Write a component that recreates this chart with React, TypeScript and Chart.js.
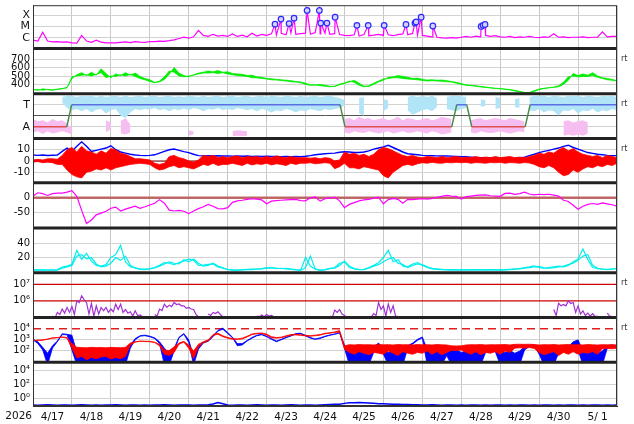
import React, { useEffect, useRef } from "react";
import { Chart, registerables } from "chart.js";

Chart.register(...registerables);

const FONT = "DejaVu Sans";
const N = null;
const STEP = 0.125; // days per sample (3 h)
const DAYS = 15;
const YEAR_LABEL = "2026";
const X_LABELS = ["4/17", "4/18", "4/19", "4/20", "4/21", "4/22", "4/23", "4/24", "4/25", "4/26", "4/27", "4/28", "4/29", "4/30", "5/ 1", ""];

// Panel 1: X-ray flux (W/m2)
const XRAY = [
  6e-7, 5e-7, 3e-6, 5e-7, 4.2e-7, 4.5e-7, 4e-7, 4.2e-7,
  3.5e-7, 3.3e-7, 1.6e-6, 5e-7, 3.8e-7, 6e-7, 4e-7, 3.4e-7,
  3.5e-7, 3.4e-7, 3.8e-7, 4.2e-7, 3.6e-7, 4.4e-7, 4e-7, 3.9e-7,
  4.6e-7, 4.4e-7, 5e-7, 4.8e-7, 5.5e-7, 6.5e-7, 8.5e-7, 1.1e-6,
  9e-7, 1.2e-6, 4.5e-6, 1.6e-6, 1.3e-6, 2e-6, 1.4e-6, 1.6e-6,
  1.3e-6, 2.2e-6, 1.3e-6, 1.7e-6, 1.2e-6, 2.5e-6, 1.4e-6, 2e-6,
  1.6e-6, 2.2e-6, 1.7e-6, 2.4e-6, 1.8e-6, 2.6e-6, 2e-6, 2.3e-6,
  2.5e-6, 2e-6, 2.8e-6, 2.2e-6, 2.5e-6, 2e-6, 2.3e-6, 1.9e-6,
  1.6e-6, 1.5e-6, 1.8e-6, 1.4e-6, 1.9e-6, 1.5e-6, 1.7e-6, 2e-6,
  1.6e-6, 1.8e-6, 1.5e-6, 1.9e-6, 2.2e-6, 1.8e-6, 2.4e-6, 1.7e-6,
  1.6e-6, 1.4e-6, 1.2e-6, 1.1e-6, 9.5e-7, 9e-7, 1e-6, 9e-7,
  1.1e-6, 1.3e-6, 1.1e-6, 1.4e-6, 1.2e-6, 1.6e-6, 1.3e-6, 1.5e-6,
  1.2e-6, 1.1e-6, 1.3e-6, 1e-6, 1.2e-6, 1.1e-6, 1.3e-6, 1.1e-6,
  1e-6, 1.2e-6, 1.1e-6, 2.2e-6, 1.1e-6, 1.2e-6, 1e-6, 1.1e-6,
  1.1e-6, 1.2e-6, 1e-6, 1.1e-6, 1.1e-6, 3.3e-6, 1.2e-6, 1.3e-6,
  1.3e-6,
];
const FLARE_T = [6.216, 6.37, 6.577, 6.705, 7.04, 7.355, 7.39, 7.55, 7.76, 8.32, 8.61, 9.02, 9.58, 9.81, 9.84, 9.97, 10.27, 11.51, 11.56, 11.61];
const FLARE_PEAK = [1.6e-5, 4.5e-5, 1.8e-5, 5.5e-5, 2.7e-4, 2.7e-4, 2e-5, 2e-5, 6.7e-5, 1.26e-5, 1.26e-5, 1.26e-5, 1.5e-5, 2e-5, 2.5e-5, 6.7e-5, 1.1e-5, 1e-5, 1.26e-5, 1.5e-5];

// Panel 2: solar wind speed (km/s), upper / lower envelope per 3 h bin
const SPEED = [
  340, 330, 348, 338, 330, 345, 352, 365,
  470, 515, 540, 505, 545, 510, 585, 530,
  480, 525, 505, 540, 510, 535, 495, 470,
  455, 425, 430, 460, 520, 600, 535, 505,
  490, 515, 535, 545, 560, 550, 565, 545,
  550, 530, 525, 520, 505, 510, 490, 485,
  470, 468, 460, 455, 450, 445, 435, 430,
  415, 395, 392, 400, 390, 378, 375, 395,
  412, 430, 450, 415, 380, 375, 400, 430,
  450, 485, 490, 505, 495, 485, 470, 475,
  460, 452, 455, 450, 452, 445, 435, 425,
  410, 395, 390, 385, 375, 370, 362, 355,
  352, 345, 340, 330, 318, 305, 300, 315,
  340, 350, 360, 365, 372, 400, 450, 530,
  505, 525, 510, 540, 500, 480, 470, 460,
  445,
];
const SPEED_LO = [
  335, 340, 332, 342, 336, 340, 348, 360,
  490, 500, 510, 515, 500, 520, 540, 480,
  500, 495, 515, 500, 520, 495, 470, 455,
  435, 420, 440, 490, 560, 545, 500, 490,
  500, 510, 525, 535, 535, 540, 530, 540,
  525, 515, 505, 500, 495, 480, 478, 470,
  465, 455, 452, 448, 440, 432, 428, 420,
  400, 390, 395, 385, 380, 372, 380, 405,
  418, 440, 425, 390, 372, 385, 415, 440,
  465, 470, 480, 480, 470, 465, 460, 455,
  448, 440, 445, 440, 438, 432, 428, 415,
  400, 390, 385, 378, 370, 365, 358, 352,
  348, 342, 335, 322, 310, 300, 305, 328,
  345, 355, 362, 368, 385, 425, 490, 500,
  490, 495, 495, 505, 485, 470, 455, 450,
  440,
];

// Panel 3: sector state (A = 1, T = 3) and scatter envelopes
const STATE_T = [0, 0.866, 0.994, 7.886, 8.014, 10.755, 10.884, 11.14, 11.27, 12.64, 12.77, 15];
const STATE_V = [1, 1, 3, 3, 1, 1, 3, 3, 1, 1, 3, 3];
const T_HI = [
  N, N, N, N, N, N, 3.7, 3.8,
  3.8, 3.7, 3.8, 3.75, 3.8, 3.7, 3.8, 3.7,
  3.75, 3.8, 3.7, 3.8, 3.7, 3.75, 3.8, 3.7,
  3.75, 3.8, 3.7, 3.75, 3.8, 3.7, 3.75, 3.7,
  3.8, 3.75, 3.7, 3.8, 3.7, 3.75, 3.8, 3.7,
  3.75, 3.8, 3.7, 3.75, 3.8, 3.7, 3.75, 3.8,
  3.7, 3.8, 3.75, 3.7, 3.8, 3.75, 3.7, 3.8,
  3.7, 3.75, 3.8, 3.7, 3.75, 3.8, 3.7, 3.6,
  3.4, N, N, 3.6, 3.7, N, N, N,
  3.5, 3.4, N, N, N, 3.7, 3.8, 3.7,
  3.8, 3.7, 3.8, 3.6, N, 3.7, 3.8, 3.8,
  3.75, 3.7, N, N, 3.5, 3.4, N, 3.7,
  3.6, N, N, 3.5, 3.6, N, 3.7, 3.8,
  3.75, 3.8, 3.7, 3.8, 3.75, 3.7, 3.8, 3.75,
  3.8, 3.7, 3.8, 3.75, 3.7, 3.8, 3.75, 3.8,
  3.7,
];
const T_LO = [
  N, N, N, N, N, N, 3.2, 2.7,
  2.5, 2.6, 2.4, 2.6, 2.3, 2.55, 2.6, 2.2,
  2.5, 2.6, 2.0, 1.8, 2.3, 2.6, 2.5, 2.6,
  2.55, 2.7, 2.5, 2.6, 2.4, 2.6, 2.5, 2.65,
  2.5, 2.7, 2.6, 2.4, 2.6, 2.55, 2.7, 2.5,
  2.6, 2.5, 2.7, 2.6, 2.5, 2.6, 2.4, 2.6,
  2.5, 2.3, 2.5, 2.4, 2.6, 2.5, 2.3, 2.5,
  2.4, 2.6, 2.5, 2.4, 2.6, 2.5, 2.6, 2.7,
  2.9, N, N, 2.2, 2.0, N, N, N,
  2.4, 2.7, N, N, N, 2.5, 2.1, 2.3,
  2.5, 2.6, 2.4, 2.8, N, 2.6, 2.5, 2.4,
  2.6, 2.7, N, N, 2.8, 2.9, N, 2.6,
  2.7, N, N, 2.8, 2.7, N, 2.5, 2.4,
  2.6, 2.3, 2.5, 2.4, 2.0, 2.5, 2.4, 2.6,
  2.2, 2.5, 2.4, 2.6, 2.3, 2.5, 2.4, 2.6,
  2.5,
];
const A_HI = [
  1.7, 1.5, 1.6, 1.4, 1.7, 1.5, 1.6, 1.3,
  0.9, N, N, N, N, N, N, 1.6,
  1.4, N, 1.5, 1.8, 1.2, N, N, N,
  N, N, N, N, N, N, N, N,
  0.7, 0.6, N, N, N, N, N, N,
  N, 0.6, 0.7, 0.65, 0.6, N, N, N,
  N, N, N, N, N, N, N, N,
  N, N, N, N, N, N, N, N,
  1.7, 1.8, 1.6, 1.9, 1.7, 1.8, 1.6, 1.7,
  1.8, 1.6, 1.7, 1.9, 1.6, 1.8, 1.7, 1.6,
  1.7, 1.8, 1.6, 1.7, 1.9, 1.8, 1.7, N,
  N, N, 1.6, 1.7, 1.8, 1.6, 1.7, 1.8,
  1.7, 1.6, 1.8, 1.7, 1.6, 1.5, N, N,
  N, N, N, N, N, 1.5, 1.6, 1.4,
  1.5, 1.6, 1.4, N, N, N, N, N,
  N,
];
const A_LO = [
  0.5, 0.6, 0.35, 0.6, 0.4, 0.5, 0.6, 0.5,
  0.3, N, N, N, N, N, N, 0.5,
  0.8, N, 0.4, 0.3, 0.5, N, N, N,
  N, N, N, N, N, N, N, N,
  0.2, 0.3, N, N, N, N, N, N,
  N, 0.15, 0.2, 0.15, 0.2, N, N, N,
  N, N, N, N, N, N, N, N,
  N, N, N, N, N, N, N, N,
  0.5, 0.4, 0.6, 0.5, 0.45, 0.6, 0.5, 0.4,
  0.5, 0.6, 0.4, 0.5, 0.6, 0.45, 0.5, 0.6,
  0.5, 0.4, 0.6, 0.5, 0.3, 0.4, 0.5, N,
  N, N, 0.5, 0.4, 0.6, 0.5, 0.45, 0.5,
  0.6, 0.5, 0.4, 0.5, 0.6, 0.5, N, N,
  N, N, N, N, N, 0.2, 0.3, 0.2,
  0.3, 0.2, 0.4, N, N, N, N, N,
  N,
];

// Panel 4: IMF Bt and Bz (nT)
const BT = [
  5.3, 5.0, 5.4, 4.9, 5.1, 5.3, 8.5, 11.5,
  8.5, 13, 17, 13, 8.5, 9.5, 10.5, 11.5,
  13.5, 10, 8, 7, 6, 5.3, 5, 4.8,
  5, 5.5, 7, 8.5, 10, 10.6, 9.5, 8.3,
  7.5, 6, 4.8, 4.6, 4.8, 4.5, 4.7, 4.4,
  4.6, 4.3, 4.5, 4.2, 4.4, 4.1, 4.3, 4.0,
  4.2, 4.0, 4.1, 3.9, 4.0, 3.8, 4.0, 3.8,
  4.2, 4.8, 5.5, 6.0, 6.5, 6.8, 7, 7.8,
  8.2, 8, 7.6, 7.6, 8, 9, 10.5, 11.5,
  12.5, 13.9, 12, 10, 8, 6.5, 6, 5.5,
  5, 4.8, 4.7, 4.6, 4.5, 4.5, 4.3, 4.1,
  3.9, 3.8, 3.5, 3.2, 3, 2.9, 2.7, 2.5,
  2.4, 2.4, 2.3, 2.4, 2.6, 3.5, 4.8, 6,
  7.5, 8.5, 9.5, 10.5, 11.5, 13, 14, 12,
  10.5, 9, 7.5, 6.8, 6, 5.5, 5, 4.8,
  4.8,
];
const BZ_HI = [
  1, 1.5, 1, 2, 2, 1.5, 5, 10,
  12, 8, 13, 9, 8, 6, 9, 7,
  11, 10, 7, 6, 4, 2, 2, 1.5,
  1, -2, -3, -2, 4, 5, 3, 2,
  0, -1, 1, 5, 4, 5, 3, 4,
  3, 4, 4.5, 3, 4, 3.5, 4, 3,
  4, 3, 4.5, 3.5, 3, 4, 3, 3,
  3, 2.5, 3, 2, 3, 2.5, 0, 1,
  8, 6, 7, 5, 6, 4, 6, 10,
  12, 11, 9, 7, 5, 4, 5, 3.5,
  3, 4, 3.5, 3, 4, 3, 3.5, 4,
  3, 3.5, 3, 4, 3, 3.5, 3, 4,
  3, 3.5, 4, 3, 3.5, 3, 4, 5,
  7, 6, 8, 7, 10, 12, 9, 11,
  8, 6, 5, 4, 5, 3, 5, 4,
  3,
];
const BZ_LO = [
  -1, -0.5, -1.5, -1, -1.5, -3, -3, -8,
  -12, -14, -15, -10, -9, -7, -8, -6,
  -8, -6, -5, -4, -3, -2.5, -2, -2.5,
  -3, -6, -8, -7, -5, -4, -6, -5,
  -6, -7, -5, -3, -4, -2, -4, -3,
  -3, -2, -3, -4, -2, -3.5, -2.5, -3,
  -2, -3.5, -2.5, -3, -4, -2, -3, -2,
  -2, -1.5, -2.5, -2, -1.5, -2, -6.8, -5,
  -2, -6, -6, -7, -5, -6, -7, -8,
  -13, -15, -10, -7, -4, -3, -4, -2.5,
  -1.5, -2, -1.2, -1.8, -2, -1.3, -1.6, -1.2,
  -1.5, -1.2, -2, -1.4, -1.6, -2, -1.3, -1.6,
  -1.2, -2, -1.4, -1.6, -2, -1.3, -1.8, -3,
  -5, -6, -4, -6, -10, -13, -12, -8,
  -10, -7, -5, -6, -4, -5, -3, -4,
  -2,
];
const BZ_ZERO = 0;

// Panel 5: Dst (nT)
const DST = [
  6, 17, 14, 8, 14, 16, 16, 19,
  24, 5, -42, -86, -74, -57, -51, -45,
  -35, -31, -44, -38, -33, -28, -35, -30,
  -24, -18, -6, -18, -41, -44, -42, -45,
  -53, -44, -36, -30, -22, -28, -36, -37,
  -33, -15, -10, -8, -5, -3, -4, -7,
  -20, -11, -9, -8, -7, -6, -5, -9,
  -10, 0, 3, -11, -3, 0, 2, -10,
  -33, -22, -16, -10, -7, -5, -1, 2,
  -20, -6, -2, -5, -18, -5, -6, -4,
  -3, -4, -2, 2, 5, 8, 6, 5,
  -4, 4, 6, 8, 9, 10, 7, 6,
  5, 15, 16, 12, 14, 19, 13, 10,
  12, 11, 12, 9, 6, -8, -12, -25,
  -38, -28, -22, -19, -22, -17, -20, -23,
  -28,
];
const DST_ZERO = 0;

// Panel 6: two activity indices
const CYAN_A = [
  3, 2.5, 3, 2.2, 2.8, 3.2, 6.5, 8,
  10.5, 30, 17.5, 26, 15, 9, 8, 10,
  20, 24, 37, 14, 7, 6, 4, 3.7,
  4.5, 6, 9, 13, 12, 10, 13, 15,
  18, 16, 9, 9.5, 10.5, 11, 7, 5,
  3.5, 2.5, 2.3, 3, 3.5, 3.7, 4, 4.5,
  5.9, 5.5, 5, 4.5, 5, 4, 3, 2.3,
  20, 8, 3.7, 2.3, 3, 5, 6, 12,
  14, 6, 4, 3, 3.5, 6, 9, 12.8,
  20, 30, 14, 17, 8, 7, 11, 13,
  9, 6, 4, 3.5, 3, 3.2, 2.8, 3,
  2.5, 3, 2.7, 3.2, 2.6, 3, 2.8, 3.1,
  2.5, 3, 3.5, 4, 4.5, 6, 7, 8.3,
  6, 5, 6, 7, 8, 7, 9, 14,
  18, 32, 17, 6, 4.5, 3.7, 3.5, 4,
  5,
];
const CYAN_B = [
  2, 2.8, 2.2, 2.6, 2, 2.5, 5, 7,
  9, 22, 24, 18, 20, 11, 7, 8,
  12, 20, 16, 22, 9, 5, 3.5, 3,
  4, 5.5, 8, 11, 14, 12, 11, 17,
  14, 18, 12, 8, 9, 12, 8, 6,
  3, 2.8, 2, 2.6, 3, 3.2, 3.6, 4,
  5, 6, 4.5, 5, 4.2, 3.5, 2.6, 2,
  6, 22, 4, 2, 2.6, 4.4, 5, 9,
  15, 8, 4.5, 3.4, 3, 5, 8, 10,
  14, 18, 20, 12, 10, 6, 9, 11,
  10, 7, 5, 4, 3.4, 2.8, 3.2, 2.6,
  3, 2.5, 3, 2.6, 3.1, 2.5, 3.2, 2.7,
  3, 2.6, 3.2, 3.6, 4, 5, 6, 7,
  7.5, 5.5, 5, 6, 7, 8, 10, 12,
  16, 22, 24, 9, 5, 4, 3.2, 3.6,
  4.5,
];

// Panel 7: electron flux (two samples per 3 h bin)
const ELEC_HI = [
  N, N, 1.1e5, N, 1.2e5, 2e5, 3.2e5, 4e5,
  4.5e5, 1e6, 2e6, 8e5, 7e5, 5e5, 4e5, 4e5,
  3.2e5, 6.3e5, 6.3e5, 3e5, 2.2e5, 2.5e5, 1.4e5, 1.05e5,
  N, 1.5e5, 3.2e5, 6.3e5, 5.5e5, 8e5, 6.5e5, 5e5,
  4e5, 3e5, 1.05e5, N, 1.6e5, 2e5, 2.2e5, 1.05e5,
  N, N, N, N, N, N, 1.2e5, 1.4e5,
  1.5e5, 1.3e5, 1.05e5, N, N, N, N, N,
  N, N, N, N, N, 1.2e5, 2.8e5, 3e5,
  1.3e5, N, N, N, N, 1.1e5, 1.7e5, 8e5,
  5e5, 6.5e5, 5e5, 1.1e5, N, N, N, N,
  N, N, N, N, N, N, N, N,
  N, N, N, N, N, N, N, N,
  N, N, N, N, N, N, N, N,
  1.2e5, 1.15e5, 1.1e5, 3e5, 7.2e5, 6e5, 1e6, 8e5,
  5e5, 2.5e5, 1.8e5, 1.7e5, 1.2e5, N, 1.8e5, 1.1e5,
  N,
];
const ELEC_LO = [
  N, N, 9e4, N, 9e4, 1.5e5, 1.8e5, 2e5,
  1.5e5, 8e5, 1.2e6, 1.6e5, 1.2e5, 1.6e5, 2.5e5, 2e5,
  2.2e5, 3e5, 2e5, 1.8e5, 1.2e5, 1.3e5, 1.1e5, N,
  N, 1.2e5, 2.6e5, 4e5, 4.5e5, 6e5, 5e5, 3.5e5,
  3.2e5, 1.5e5, N, N, 1.3e5, 1.7e5, 1.5e5, N,
  N, N, N, N, N, N, 1.1e5, 1.1e5,
  1.2e5, 1.1e5, N, N, N, N, N, N,
  N, N, N, N, N, 1e5, 2e5, 1.6e5,
  1e5, N, N, N, N, 1e5, 1.3e5, 3e5,
  1.2e5, 2e5, 1.2e5, N, N, N, N, N,
  N, N, N, N, N, N, N, N,
  N, N, N, N, N, N, N, N,
  N, N, N, N, N, N, N, N,
  1.05e5, 1e5, N, 1.3e5, 5e5, 5e5, 7e5, 2e5,
  1.6e5, 1.3e5, 1.2e5, 1.1e5, N, N, 1.2e5, N,
  N,
];
const ELEC_LEVELS = [1e6, 1e7];

// Panel 8: proton fluxes (red, blue): upper / lower envelope per 3 h bin
const RED_HI = [
  800, 850, 900, 1100, 1400, 1500, 1700, 1500,
  400, 180, 170, 160, 180, 170, 175, 160,
  180, 170, 165, 180, 450, 600, 700, 680,
  650, 550, 350, 100, 90, 200, 450, 650,
  300, 80, 350, 600, 900, 2800, 3800, 2200,
  1500, 1200, 1100, 1300, 2000, 3200, 3800, 4000,
  3200, 1800, 1500, 1600, 2200, 2800, 3000, 2700,
  2400, 2200, 2500, 2800, 3800, 4200, 5000, 6800,
  250, 320, 300, 330, 310, 320, 300, 330,
  310, 320, 300, 330, 310, 320, 300, 330,
  310, 320, 300, 330, 310, 300, 250, 240,
  250, 300, 320, 310, 330, 300, 320, 310,
  320, 330, 300, 340, 350, 340, 350, 330,
  300, 320, 310, 330, 300, 320, 330, 310,
  320, 300, 330, 310, 300, 320, 310, 320,
  300,
];
const RED_LO = [
  750, 800, 850, 1000, 1300, 1400, 1600, 1300,
  150, 18, 25, 12, 20, 15, 22, 25,
  14, 20, 15, 25, 300, 550, 650, 620,
  600, 500, 250, 40, 30, 60, 350, 550,
  150, 16, 200, 500, 700, 2400, 3000, 1800,
  1300, 1000, 1000, 1100, 1700, 2800, 3400, 3600,
  2600, 1400, 1300, 1400, 1900, 2500, 2600, 2400,
  2100, 2000, 2200, 2500, 3300, 3800, 4500, 5000,
  120, 60, 40, 70, 50, 35, 60, 50,
  40, 80, 50, 30, 70, 50, 40, 60,
  50, 80, 40, 70, 35, 60, 90, 90,
  100, 60, 40, 70, 35, 60, 50, 70,
  40, 80, 60, 150, 160, 150, 170, 140,
  60, 35, 50, 70, 30, 60, 40, 70,
  40, 60, 50, 70, 40, 130, 140, 130,
  150,
];
const BLUE_HI = [
  1000, 600, 180, 50, 250, 700, 3400, 3000,
  2500, 60, 100, 40, 120, 30, 110, 50,
  125, 40, 100, 60, 300, 1200, 2200, 2500,
  2000, 1400, 600, 150, 40, 150, 1600, 3500,
  900, 25, 200, 550, 750, 2200, 7000, 11500,
  4500, 1600, 400, 400, 800, 1500, 2500, 3000,
  2000, 1200, 700, 1000, 1600, 2300, 3500, 3800,
  2400, 1500, 1100, 1400, 2000, 2600, 3200, 4500,
  300, 90, 60, 100, 50, 90, 200, 450,
  150, 60, 90, 40, 100, 250, 450, 1000,
  1700, 110, 90, 110, 80, 100, 90, 110,
  60, 80, 50, 70, 90, 130, 140, 130,
  80, 60, 90, 50, 80, 200, 280, 320,
  150, 90, 60, 80, 120, 160, 200, 600,
  900, 80, 60, 90, 50, 80, 250, 300,
  250,
];
const BLUE_LO = [
  900, 400, 100, 4, 150, 600, 2800, 2700,
  100, 4, 4, 4, 4, 4, 4, 4,
  4, 4, 4, 4, 150, 900, 2000, 2200,
  1800, 1200, 400, 4, 4, 80, 1400, 3000,
  500, 4, 120, 450, 650, 1800, 6000, 9000,
  3500, 1400, 250, 300, 700, 1300, 2200, 2700,
  1800, 1000, 600, 900, 1400, 2100, 3200, 3400,
  2100, 1300, 1000, 1200, 1800, 2400, 3000, 4000,
  150, 4, 4, 4, 4, 4, 60, 300,
  40, 4, 4, 4, 4, 150, 350, 800,
  1400, 4, 4, 8, 4, 30, 4, 4,
  4, 4, 4, 4, 4, 60, 80, 70,
  4, 4, 4, 4, 4, 100, 220, 250,
  40, 4, 4, 4, 50, 110, 150, 300,
  100, 4, 4, 4, 4, 4, 150, 200,
  200,
];
const PROTON_LEVEL = 1e4;

// Panel 9: high-energy flux
const HIGH_E = [
  0.13, 0.12, 0.13, 0.14, 0.13, 0.12, 0.13, 0.13,
  0.12, 0.13, 0.14, 0.13, 0.12, 0.13, 0.12, 0.13,
  0.13, 0.14, 0.13, 0.12, 0.13, 0.13, 0.12, 0.13,
  0.12, 0.13, 0.13, 0.14, 0.13, 0.12, 0.13, 0.13,
  0.13, 0.12, 0.13, 0.13, 0.14, 0.18, 0.3, 0.2,
  0.13, 0.12, 0.13, 0.13, 0.12, 0.13, 0.14, 0.13,
  0.12, 0.13, 0.13, 0.12, 0.13, 0.14, 0.13, 0.12,
  0.13, 0.13, 0.12, 0.13, 0.14, 0.15, 0.16, 0.17,
  0.22, 0.26, 0.28, 0.3, 0.27, 0.25, 0.22, 0.2,
  0.19, 0.18, 0.17, 0.16, 0.15, 0.15, 0.14, 0.14,
  0.13, 0.13, 0.14, 0.13, 0.12, 0.13, 0.13, 0.12,
  0.13, 0.12, 0.13, 0.13, 0.12, 0.13, 0.12, 0.13,
  0.13, 0.12, 0.13, 0.12, 0.13, 0.13, 0.12, 0.13,
  0.12, 0.13, 0.13, 0.12, 0.13, 0.12, 0.13, 0.13,
  0.12, 0.13, 0.12, 0.13, 0.13, 0.12, 0.13, 0.12,
  0.13,
];

const RT_PANELS = ["y2", "y3", "y4", "y7", "y8"];
const PANEL_ORDER = ["y1", "y2", "y3", "y4", "y5", "y6", "y7", "y8", "y9"];

type P = { x: number; y: number | null };
const pts = (vals: (number | null)[]): P[] => vals.map((v, i) => ({ x: i * STEP, y: v }));
const zig = (hi: (number | null)[], lo: (number | null)[]): P[] => {
  const out: P[] = [];
  hi.forEach((h, i) => {
    out.push({ x: i * STEP, y: h });
    out.push({ x: i * STEP + STEP / 2, y: lo[i] });
  });
  return out;
};
const hline = (v: number): P[] => [{ x: 0, y: v }, { x: DAYS, y: v }];

// envelope drawn as a filled band: lower line then upper line filled to it
const bandSets = (hi: any[], lo: any[], color: string, axis: string, order: number, lineW = 0.8) => [
  { data: pts(lo), yAxisID: axis, borderColor: color, borderWidth: lineW, order },
  { data: pts(hi), yAxisID: axis, borderColor: color, borderWidth: lineW, fill: "-1", backgroundColor: color, order },
];

function panelAxis(o: any) {
  return {
    type: o.type || "linear",
    position: "left",
    stack: "panels",
    stackWeight: o.weight,
    offset: false,
    min: o.min,
    max: o.max,
    afterBuildTicks: (axis: any) => {
      axis.ticks = o.ticks.map((v: number) => ({ value: v }));
    },
    afterFit: (axis: any) => {
      axis.width = 33;
      axis.paddingTop = 0;
      axis.paddingBottom = 0;
    },
    ticks: {
      autoSkip: false,
      padding: 3,
      color: "#111",
      font: { size: o.fontSize || 10, family: FONT },
      callback: (_v: any, i: number) => o.labels[i] ?? "",
    },
    grid: {
      drawTicks: false,
      color: o.gridColor || "#d2d2d2",
      lineWidth: 1,
    },
    border: { display: true, color: "#333", width: 1 },
  };
}

const panelPlugin = {
  id: "panelFrame",
  afterDraw(chart: any) {
    const ctx = chart.ctx;
    const { left, right, top, bottom } = chart.chartArea;
    ctx.save();
    ctx.strokeStyle = "#222";
    ctx.lineWidth = 3;
    PANEL_ORDER.slice(0, -1).forEach((id) => {
      const s = chart.scales[id];
      ctx.beginPath();
      ctx.moveTo(left, s.bottom);
      ctx.lineTo(right, s.bottom);
      ctx.stroke();
    });
    ctx.lineWidth = 1;
    ctx.strokeStyle = "#333";
    ctx.strokeRect(left + 0.5, top + 0.5, right - left - 1, bottom - top - 1);
    ctx.fillStyle = "#333";
    ctx.font = `8px "${FONT}"`;
    ctx.textAlign = "left";
    ctx.textBaseline = "middle";
    RT_PANELS.forEach((id) => {
      ctx.fillText("rt", right + 4, chart.scales[id].top + 10);
    });
    ctx.fillStyle = "#111";
    ctx.font = `10.5px "${FONT}"`;
    ctx.textAlign = "right";
    ctx.fillText(YEAR_LABEL, left - 1, bottom + 10);
    ctx.restore();
  },
};

export default function App() {
  const ref = useRef<HTMLCanvasElement | null>(null);

  useEffect(() => {
    if (!ref.current) return;
    Chart.defaults.font.family = FONT;

    const xrayPts = [
      ...pts(XRAY),
      ...FLARE_T.map((t, i) => ({ x: t, y: FLARE_PEAK[i] })),
    ].sort((a, b) => a.x - b.x);
    const flarePts = FLARE_T.map((t, i) => ({ x: t, y: FLARE_PEAK[i] }));
    const statePts = STATE_T.map((t, i) => ({ x: t, y: STATE_V[i] }));

    const datasets: any[] = [
      // panel 1
      { data: flarePts, yAxisID: "y1", showLine: false, pointRadius: 2.8, pointBorderWidth: 1.2, pointBackgroundColor: "#d8d0ff", pointBorderColor: "#2a2aff", order: 0 },
      { data: xrayPts, yAxisID: "y1", borderColor: "#ff00ff", borderWidth: 1.2, order: 1 },
      // panel 2
      ...bandSets(SPEED, SPEED_LO, "#00ee00", "y2", 1),
      // panel 3
      ...bandSets(T_HI, T_LO, "#b2e4f8", "y3", 6, 0),
      ...bandSets(A_HI, A_LO, "#f6bdf0", "y3", 6, 0),
      {
        data: statePts, yAxisID: "y3", borderWidth: 1.5, borderColor: "#4a8a4a", order: 1,
        segment: {
          borderColor: (c: any) =>
            c.p0.parsed.y === c.p1.parsed.y ? (c.p0.parsed.y > 2 ? "#5a6ee6" : "#e05050") : "#4a8a4a",
        },
      },
      // panel 4
      ...bandSets(BZ_HI, BZ_LO, "#ff0000", "y4", 1),
      { data: pts(BT), yAxisID: "y4", borderColor: "#0000ff", borderWidth: 1.4, order: 2 },
      { data: hline(BZ_ZERO), yAxisID: "y4", borderColor: "#660000", borderWidth: 1, order: 3 },
      // panel 5
      { data: pts(DST), yAxisID: "y5", borderColor: "#ff00ff", borderWidth: 1.2, order: 1 },
      { data: hline(DST_ZERO), yAxisID: "y5", borderColor: "rgba(185,80,80,0.85)", borderWidth: 2.5, order: 2 },
      // panel 6
      { data: pts(CYAN_A), yAxisID: "y6", borderColor: "#00eeee", borderWidth: 1.2, order: 1 },
      { data: pts(CYAN_B), yAxisID: "y6", borderColor: "#00eeee", borderWidth: 1.2, order: 2 },
      // panel 7
      { data: zig(ELEC_HI, ELEC_LO), yAxisID: "y7", borderColor: "#a030d0", borderWidth: 1.2, order: 1 },
      ...ELEC_LEVELS.map((v) => ({ data: hline(v), yAxisID: "y7", borderColor: "#cc0000", borderWidth: 1.3, order: 2 })),
      // panel 8
      ...bandSets(RED_HI, RED_LO, "#ff0000", "y8", 1),
      ...bandSets(BLUE_HI, BLUE_LO, "#0000ff", "y8", 2),
      { data: hline(PROTON_LEVEL), yAxisID: "y8", borderColor: "#e02020", borderWidth: 1.5, borderDash: [8, 5], order: 3 },
      // panel 9
      { data: pts(HIGH_E), yAxisID: "y9", borderColor: "#0000ff", borderWidth: 1.5, order: 1 },
    ].map((d) => ({ xAxisID: "x", fill: false, pointRadius: 0, ...d }));

    const scales: any = {
      x: {
        type: "linear",
        position: "bottom",
        min: 0,
        max: DAYS,
        afterBuildTicks: (axis: any) => {
          axis.ticks = X_LABELS.map((_l, i) => ({ value: i }));
        },
        afterFit: (axis: any) => {
          axis.height = 18;
          axis.paddingLeft = 0;
          axis.paddingRight = 0;
        },
        ticks: {
          autoSkip: false,
          maxRotation: 0,
          minRotation: 0,
          padding: 5,
          labelOffset: 19.5,
          color: "#111",
          font: { size: 10.5, family: FONT },
          callback: (_v: any, i: number) => X_LABELS[i],
        },
        grid: { drawTicks: false, color: "#c8c8c8" },
        border: { display: true, color: "#333" },
      },
      // defined bottom-up: the left stack places the last-defined axis on top
      y9: panelAxis({ weight: 44, type: "logarithmic", min: 0.093, max: 1.55e5, ticks: [1, 100, 1e4], labels: ["10⁰", "10²", "10⁴"] }),
      y8: panelAxis({
        weight: 45, type: "logarithmic", min: 7.1, max: 1.14e5, ticks: [100, 1000, 1e4], labels: ["10²", "10³", "10⁴"],
        gridColor: (c: any) => (c.tick && c.tick.value === PROTON_LEVEL ? "rgba(0,0,0,0)" : "#d2d2d2"),
      }),
      y7: panelAxis({
        weight: 45, type: "logarithmic", min: 9.86e4, max: 5.07e7, ticks: [1e6, 1e7], labels: ["10⁶", "10⁷"],
        gridColor: "rgba(0,0,0,0)",
      }),
      y6: panelAxis({ weight: 45, min: -1.25, max: 61.25, ticks: [20, 40], labels: ["20", "40"] }),
      y5: panelAxis({ weight: 45.5, min: -101, max: 50.7, ticks: [-50, 0], labels: ["-50", "0"] }),
      y4: panelAxis({ weight: 44.5, min: -19.25, max: 20, ticks: [-10, 0, 10], labels: ["-10", "0", "10"] }),
      y3: panelAxis({
        weight: 45, min: -0.05, max: 3.99, ticks: [1, 2, 3], labels: ["A", "", "T"], fontSize: 11,
        gridColor: (c: any) => (c.tick && c.tick.value === 2 ? "#555" : "#d2d2d2"),
      }),
      y2: panelAxis({ weight: 45.5, min: 290, max: 827, ticks: [400, 500, 600, 700], labels: ["400", "500", "600", "700"] }),
      y1: panelAxis({
        weight: 43.5, type: "logarithmic", min: 1.1e-7, max: 7.8e-4, ticks: [1e-6, 1e-5, 1e-4], labels: ["C", "M", "X"], fontSize: 11,
      }),
    };

    const chart = new Chart(ref.current, {
      type: "line",
      data: { datasets },
      options: {
        animation: false,
        responsive: false,
        maintainAspectRatio: false,
        layout: { padding: { top: 3, right: 17, bottom: 0, left: 0 } },
        plugins: { legend: { display: false }, tooltip: { enabled: false } },
        elements: { point: { radius: 0 }, line: { tension: 0 } },
        scales,
      } as any,
      plugins: [panelPlugin],
    });
    return () => chart.destroy();
  }, []);

  return (
    <div style={{ position: "absolute", left: 0, top: 0, width: 634, height: 424, background: "#fff" }}>
      <canvas ref={ref} width={634} height={424} style={{ width: 634, height: 424, display: "block" }} />
    </div>
  );
}
